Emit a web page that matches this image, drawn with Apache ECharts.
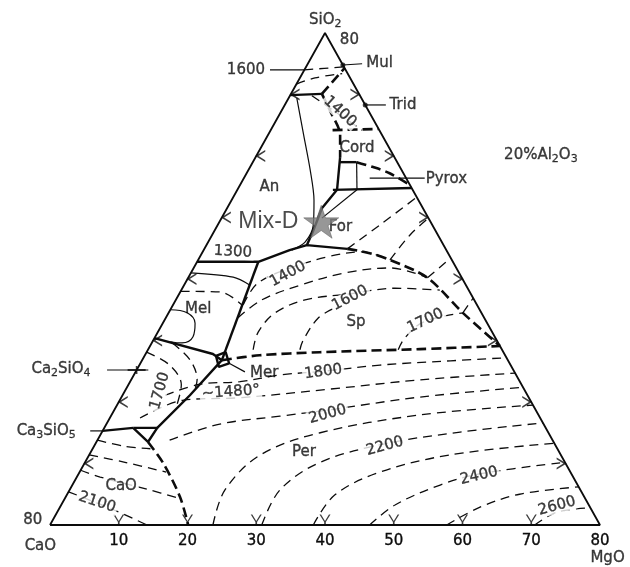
<!DOCTYPE html>
<html>
<head>
<meta charset="utf-8">
<script src="https://cdn.jsdelivr.net/npm/echarts@6/dist/echarts.min.js"></script>
<style>
  html, body { margin: 0; padding: 0; background: #fff; }
  #chart { width: 630px; height: 567px; }
</style>
</head>
<body>
<div id="chart"></div>
<script>
// compositions on the 20% Al2O3 plane: [MgO, SiO2] (CaO = 80 - MgO - SiO2)
const triangleEdge = [[0, 0], [80, 0], [0, 80], [0, 0]];
const bottomTicks = [10, 20, 30, 40, 50, 60, 70, 80];
const edgeTickSteps = [10, 20, 30, 40, 50, 60, 70];

// solid boundary curves
const bnd1300 = [[0, 42.8], [8.9, 42.8], [12.5, 44.7], [14.6, 45.5], [20.8, 44.9]];
const bndForAn = [[14.5, 54.5], [13.8, 51.5], [14.4, 47.6], [14.6, 45.5]];
const bndPyrox = [[13.9, 54.5], [25.2, 54.8]];
const bndCordLeft = [[12.3, 59.8], [14.5, 54.5]];
const bndCordTop = [[12.7, 59.0], [15.1, 59.0]];
const bndCordRight = [[15.1, 59.0], [17.4, 54.5]];
const bndAnTop = [[0, 69.9], [4.5, 70.1]];
const bndMel = [[8.9, 42.8], [11.6, 26.8]];
const bndMelCa2 = [[0, 30.4], [9.8, 27.8], [11.6, 26.8]];
const bndMerCa3 = [[11.6, 26.8], [9.8, 21.1], [7.7, 15.8]];
const bndCa3Tri = [[4.2, 15.8], [7.7, 15.8], [7.5, 13.5], [4.2, 15.8]];
const bndCa2Ca3 = [[0, 15.3], [4.2, 15.8]];
const merBox = [[10.4, 27.5], [11.5, 28.1], [12.9, 26.3], [11.7, 25.7], [10.4, 27.5]];

// thin solid curves
const anCurve = [[1.2, 69.4], [5.2, 63.4], [9.0, 57.7], [12.0, 52.8], [13.9, 48.8], [14.1, 46.0], [12.8, 44.7]];
const forThin = [[14.6, 49.9], [17.4, 54.5]];
const melArc = [[0, 41.0], [6.5, 40.3], [9.6, 39.0]];
const melLobe = [[0, 35.0], [2.7, 34.5], [4.7, 32.8], [5.5, 30.6], [4.4, 29.6], [2.6, 29.8]];

// leader lines to the phase names
const ca2Leader = [[-4.3, 25.2], [1.7, 25.2]];
const ca3Leader = [[-1.8, 15.3], [0, 15.3]];
const mulLeader = [[5.2, 74.8], [7.9, 75.0]];
const tridLeader = [[11.7, 68.3], [14.7, 68.3]];
const pyroxLeader = [[18.3, 56.4], [26.3, 56.4]];
const merLeader = [[12.9, 26.3], [15.9, 24.9]];
const top1600Leader = [[-5.0, 74.0], [0, 74.0]];

// heavy dashed boundaries
const dashMul = [[4.5, 70.1], [5.7, 74.3]];
const dashCordWest = [[4.5, 70.1], [7.2, 67.2], [10.5, 63.4], [12.3, 59.8]];
const dashTridCord = [[9.0, 64.2], [15.6, 64.4]];
const dashCordPyrox = [[15.1, 59.0], [17.9, 58.2], [20.8, 57.2], [24.7, 55.3]];
const dashForSp = [[20.8, 44.9], [24.4, 44.2], [27.9, 43.1], [34.8, 40.2], [42.8, 34.5], [50.9, 29.1]];
const dashPerSp = [[11.6, 26.8], [16.7, 27.6], [25.2, 28.1], [39.5, 28.6], [50.9, 29.1]];
const dashCaOPer = [[7.5, 13.5], [11.4, 10.1], [16.6, 4.6], [20.1, 0]];

// isotherms
const isoTop1600 = [[0, 74.0], [5.5, 74.5]];
const isoTopA = [[0, 71.7], [2.2, 72.7], [5.8, 73.4]];
const isoTop1400 = [[3.2, 69.8], [13.3, 64.2]];
const isoFor1 = [[20.8, 44.9], [23.6, 48.8], [26.7, 53.3]];
const isoFor2 = [[27.9, 43.1], [28.8, 47.2], [30.1, 49.9]];
const isoFor3 = [[34.8, 40.2], [35.8, 42.0], [36.6, 43.4]];
const isoFor4 = [[42.8, 34.5], [43.1, 36.9]];
const isoMel = [[0, 38.0], [5.8, 37.9], [10.0, 35.8]];
const isoSp1400 = [[10.2, 35.8], [10.5, 39.2], [13.5, 41.5], [18.9, 43.7], [23.2, 44.4], [27.9, 43.1]];
const isoSp1500 = [[10.5, 33.7], [12.5, 36.6], [16.9, 39.0], [22.4, 41.0], [28.6, 41.8], [34.8, 40.2]];
const isoSp1600 = [[15.3, 28.5], [14.6, 31.4], [15.5, 34.5], [18.8, 36.6], [24.9, 37.6], [30.9, 38.5], [37.6, 38.2]];
const isoSp1650 = [[22.1, 28.5], [21.8, 30.1], [22.2, 33.7], [23.8, 35.3]];
const isoSp1700 = [[36.4, 28.5], [36.4, 30.4], [37.8, 33.0], [42.8, 34.5]];
const isoPer1800 = [[6.2, 21.1], [10.4, 22.9], [16.0, 23.3], [21.3, 24.4], [27.2, 25.0], [35.0, 26.0], [44.9, 26.7], [52.9, 27.2]];
const isoPer1900 = [[4.4, 17.4], [9.3, 20.3], [17.3, 20.7], [29.7, 22.1], [42.0, 23.6], [55.3, 24.7]];
const isoPer2000 = [[10.5, 13.8], [16.5, 16.4], [24.6, 17.7], [31.1, 18.7], [43.4, 20.8], [57.6, 22.4]];
const isoPer2100 = [[23.7, 0], [22.6, 5.7], [24.9, 11.4], [31.8, 15.0], [44.9, 17.9], [60.5, 19.5]];
const isoPer2200 = [[30.8, 0], [30.6, 5.7], [34.2, 10.2], [42.1, 13.2], [52.1, 15.1], [63.4, 16.6]];
const isoPer2300 = [[38.3, 0], [39.0, 4.9], [43.7, 8.6], [52.5, 11.4], [66.7, 13.3]];
const isoPer2400 = [[46.5, 0], [48.6, 3.3], [53.5, 6.5], [58.3, 8.3], [69.8, 10.2]];
const isoPer2500 = [[57.7, 0], [61.1, 2.9], [65.8, 5.0], [73.8, 6.2]];
const isoPer2600 = [[70.5, 0], [72.7, 2.1], [77.2, 2.8]];
const isoCa2A = [[3.0, 29.6], [7.0, 26.8], [9.6, 23.6], [10.0, 22.3]];
const isoCa2B = [[0, 28.1], [4.4, 26.0], [7.7, 22.8], [8.8, 19.0]];
const isoCaO1 = [[0, 13.8], [4.5, 12.8], [8.4, 12.4]];
const isoCaO2 = [[0, 11.4], [5.8, 10.2], [12.6, 8.6]];
const isoCaO3 = [[0, 8.9], [3.4, 7.8], [11.7, 5.7], [16.4, 4.4]];
const isoCaO2100 = [[0, 5.4], [8.2, 2.4], [14.1, 0]];

const edgeDots = [[5.2, 74.8], [11.7, 68.3]];
const ca2Mark = [[0, 25.2]];
const mixD = [14.8, 49.3];

// text: [label, MgO, SiO2]
const fieldLabels = [
  ['SiO{s|2}', -1.0, 82.1],
  ['80', 4.1, 78.9],
  ['Mul', 10.4, 75.1],
  ['Trid', 17.2, 68.3],
  ['1600', -8.5, 74.0],
  ['1400', 8.6, 67.2],
  ['Cord', 14.0, 61.3],
  ['Pyrox', 29.5, 56.3],
  ['20%Al{s|2}O{s|3}', 41.3, 60.2],
  ['An', 4.4, 55.0],
  ['For', 18.0, 48.5],
  ['1300', 4.4, 44.4],
  ['1400', 14.2, 40.8],
  ['1600', 25.2, 36.9],
  ['Sp', 28.0, 33.0],
  ['1700', 38.0, 33.2],
  ['Mel', 4.0, 35.1],
  ['Ca{s|2}SiO{s|4}', -11.1, 25.4],
  ['Mer', 18.8, 24.7],
  ['1800', 27.3, 24.9],
  ['~1480°', 15.5, 21.6],
  ['1700', 5.1, 21.8],
  ['2000', 31.4, 18.0],
  ['Ca{s|3}SiO{s|5}', -8.2, 15.3],
  ['Per', 31.0, 11.9],
  ['2200', 42.3, 12.8],
  ['CaO', 7.2, 6.3],
  ['2100', 5.0, 3.7],
  ['2400', 58.4, 8.0],
  ['2600', 72.2, 3.1],
  ['80', -2.9, 0.8],
  ['CaO', 0.3, -3.4],
  ['MgO', 83.8, -5.4]
];

const INK = '#0c0c0c';
const FONT = 'DejaVu Sans';
// label index -> rotation (deg, ccw)
const tilt = {5: -42, 11: -3, 12: 28, 13: 27, 15: 25, 19: 8, 20: 4, 21: 74, 22: 15, 25: 15, 27: -18, 28: 13, 29: 15};
const maskIdx = [4, 5, 11, 12, 13, 15, 19, 20, 21, 22, 25, 26, 27, 28, 29];

function toXY(p) {
  return [p[0] + p[1] / 2, p[1]];
}

function path(points, kind, smooth) {
  const styles = {
    edge: {color: INK, width: 1.8, type: 'solid'},
    bold: {color: INK, width: 2.4, type: 'solid'},
    thin: {color: INK, width: 1.2, type: 'solid'},
    heavy: {color: INK, width: 2.6, type: [10, 5]},
    iso: {color: INK, width: 1.3, type: [9, 6]}
  };
  return {
    type: 'line',
    data: points.map(toXY),
    symbol: 'none',
    smooth: smooth || false,
    lineStyle: styles[kind],
    silent: true,
    clip: false,
    z: 2
  };
}

function chevrons(points, shape, size, offset) {
  return {
    type: 'scatter',
    data: points.map(toXY),
    symbol: shape,
    symbolSize: size,
    symbolOffset: offset,
    itemStyle: {color: INK},
    silent: true,
    clip: false,
    z: 3
  };
}

const series = [
  path(triangleEdge, 'edge'),
  path(bnd1300, 'bold'), path(bndForAn, 'bold'), path(bndPyrox, 'bold'),
  path(bndCordLeft, 'bold'), path(bndCordTop, 'bold'), path(bndCordRight, 'thin'),
  path(bndAnTop, 'bold'), path(bndMel, 'bold'), path(bndMelCa2, 'bold'),
  path(bndMerCa3, 'bold'), path(bndCa3Tri, 'bold'), path(bndCa2Ca3, 'bold'), path(merBox, 'bold'),
  path(anCurve, 'thin', 0.3), path(forThin, 'thin'), path(melArc, 'thin', 0.3), path(melLobe, 'thin', 0.4),
  path(ca2Leader, 'thin'), path(ca3Leader, 'thin'), path(mulLeader, 'thin'), path(tridLeader, 'thin'),
  path(pyroxLeader, 'thin'), path(merLeader, 'thin'), path(top1600Leader, 'thin'),
  path(dashMul, 'heavy'), path(dashCordWest, 'heavy', 0.3), path(dashTridCord, 'heavy'),
  path(dashCordPyrox, 'heavy', 0.3), path(dashForSp, 'heavy', 0.3), path(dashPerSp, 'heavy', 0.3),
  path(dashCaOPer, 'heavy', 0.3)
];

[isoTop1600, isoTopA, isoTop1400, isoFor1, isoFor2, isoFor3, isoFor4, isoMel,
 isoSp1400, isoSp1500, isoSp1600, isoSp1650, isoSp1700,
 isoPer1800, isoPer1900, isoPer2000, isoPer2100, isoPer2200, isoPer2300, isoPer2400, isoPer2500, isoPer2600,
 isoCa2A, isoCa2B, isoCaO1, isoCaO2, isoCaO3, isoCaO2100].forEach(function (iso) {
  series.push(path(iso, 'iso', 0.35));
});

// tick chevrons on the three sides, every 10 %
const CHEV_LEFT = 'path://M10,0 L1.5,6 L10,12 L10,10.3 L4.3,6 L10,1.7 Z';
const CHEV_RIGHT = 'path://M0,0 L8.5,6 L0,12 L0,10.3 L5.7,6 L0,1.7 Z';
const CHEV_UP = 'path://M0,0 L1.7,0 L6,6.5 L10.3,0 L12,0 L6.9,7.6 L6.9,11 L5.1,11 L5.1,7.6 Z';
series.push(chevrons(edgeTickSteps.map(function (k) { return [0, k]; }), CHEV_LEFT, [10, 12], [4, 0]));
series.push(chevrons(edgeTickSteps.map(function (k) { return [80 - k, k]; }), CHEV_RIGHT, [10, 12], [-4, 0]));
series.push(chevrons(edgeTickSteps.map(function (k) { return [k, 0]; }), CHEV_UP, [11, 11], [0, -5]));

series.push({
  type: 'scatter',
  data: edgeDots.map(toXY),
  symbol: 'circle',
  symbolSize: 5,
  itemStyle: {color: INK},
  silent: true,
  z: 3
});
series.push({
  type: 'scatter',
  data: ca2Mark.map(toXY),
  symbol: 'path://M0,4 L10,4 L10,0 L12,0 L12,4 L22,4 L22,7 L12,7 L12,11 L10,11 L10,7 L0,7 Z',
  symbolSize: [18, 8],
  itemStyle: {color: INK},
  silent: true,
  z: 3
});

series.push({
  type: 'scatter',
  symbolSize: 0,
  silent: true,
  clip: false,
  z: 5,
  data: fieldLabels.map(function (l, i) {
    const masked = maskIdx.indexOf(i) >= 0;
    return {
      name: l[0],
      value: toXY([l[1], l[2]]),
      label: {
        rotate: tilt[i] || 0,
        backgroundColor: masked ? '#fff' : 'transparent',
        padding: masked ? [0, 2] : 0
      }
    };
  }),
  label: {
    show: true,
    position: 'inside',
    formatter: function (p) { return p.name; },
    color: INK,
    fontFamily: FONT,
    fontSize: 15,
    textBorderColor: INK,
    textBorderWidth: 0.35,
    rich: {
      s: {fontFamily: FONT, fontSize: 11, color: INK, textBorderColor: INK, textBorderWidth: 0.3, padding: [9, 0, 0, 0]}
    }
  }
});

series.push({
  type: 'scatter',
  data: [{name: 'Mix-D', value: toXY(mixD)}],
  symbol: 'path://M50,0 L61.8,35.3 L99,35.3 L69,57.1 L80.4,92.7 L50,70.8 L19.6,92.7 L31,57.1 L1,35.3 L38.2,35.3 Z',
  symbolSize: [35, 33],
  itemStyle: {color: '#7d7d7d', borderColor: '#555', borderWidth: 0.6},
  label: {
    show: true,
    position: 'left',
    distance: 5,
    formatter: '{b}',
    color: '#1e1e1e',
    fontFamily: 'Liberation Sans',
    fontSize: 23
  },
  silent: true,
  z: 10
});

const chart = echarts.init(document.getElementById('chart'), null, {renderer: 'canvas'});
chart.setOption({
  animation: false,
  backgroundColor: '#fff',
  grid: {left: 50, top: 33, width: 550, height: 492},
  xAxis: {
    type: 'value',
    min: 0,
    max: 80,
    interval: 10,
    axisLine: {show: false},
    axisTick: {show: false},
    splitLine: {show: false},
    axisLabel: {
      margin: 9,
      color: INK,
      fontFamily: FONT,
      fontSize: 15,
      textBorderColor: INK,
      textBorderWidth: 0.35,
      formatter: function (v) { return bottomTicks.indexOf(v) >= 0 ? String(v) : ''; }
    }
  },
  yAxis: {type: 'value', min: 0, max: 80, show: false},
  series: series
});
</script>
</body>
</html>
